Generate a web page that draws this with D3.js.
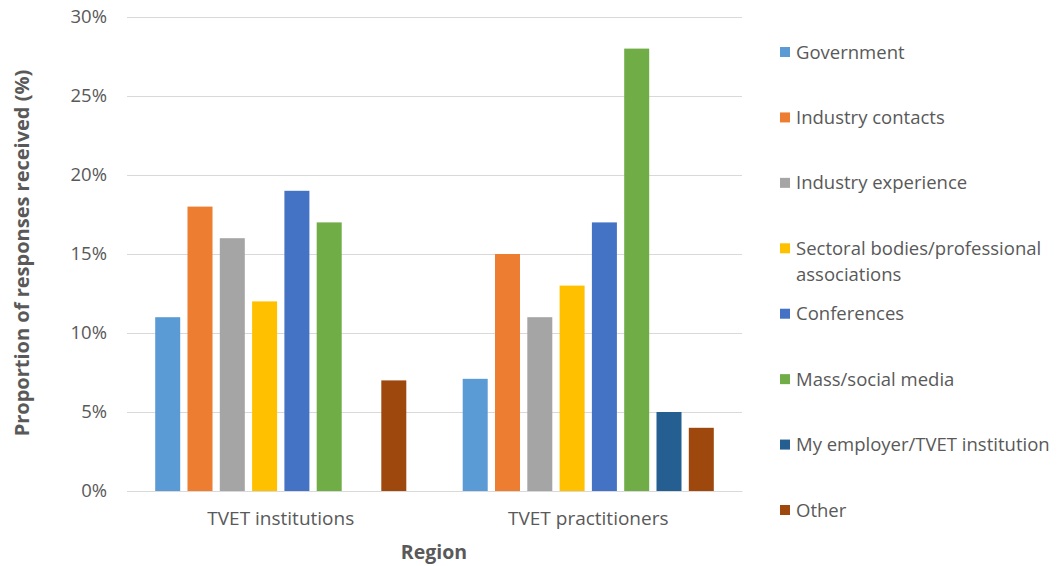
<!DOCTYPE html>
<html>
<head>
<meta charset="utf-8">
<script src="https://cdn.jsdelivr.net/npm/d3@7"></script>
<style>
  body { margin: 0; background: #fff; }
  svg { display: block; font-family: "Open Sans", "Liberation Sans", sans-serif; }
</style>
</head>
<body>
<svg id="chart" width="1057" height="566"></svg>
<script>
const categories = ["TVET institutions", "TVET practitioners"];
const seriesNames = ["Government", "Industry contacts", "Industry experience",
  "Sectoral bodies/professional associations", "Conferences", "Mass/social media",
  "My employer/TVET institution", "Other"];
const legendLines = [["Government"], ["Industry contacts"], ["Industry experience"],
  ["Sectoral bodies/professional", "associations"], ["Conferences"], ["Mass/social media"],
  ["My employer/TVET institution"], ["Other"]];
const institutionsValues = [11, 18, 16, 12, 19, 17, 0, 7];
const practitionersValues = [7.1, 15, 11, 13, 17, 28, 5, 4];
const yTicks = [0, 5, 10, 15, 20, 25, 30];
const colors = ["#5B9BD5", "#ED7D31", "#A5A5A5", "#FFC000", "#4472C4", "#70AD47", "#255E91", "#9E480E"];

const valuesByCategory = [institutionsValues, practitionersValues];

const svg = d3.select("#chart");
const plotLeft = 127, plotRight = 742, plotTop = 17, plotBottom = 491;

const y = d3.scaleLinear().domain([0, 30]).range([plotBottom, plotTop]);
const x0 = d3.scaleBand().domain(categories).range([plotLeft, plotRight]).padding(0);
const x1 = d3.scaleBand().domain(seriesNames).range([0, x0.bandwidth()])
  .paddingInner(0.226).paddingOuter(0.873);
const color = d3.scaleOrdinal().domain(seriesNames).range(colors);

// gridlines
const grid = svg.append("g")
  .attr("transform", `translate(${plotLeft},0)`)
  .call(d3.axisLeft(y).tickValues(yTicks).tickSize(-(plotRight - plotLeft)).tickFormat(""));
grid.select(".domain").remove();
grid.selectAll("line").attr("stroke", "#D9D9D9").attr("stroke-width", 1);

// y tick labels
const yAxis = svg.append("g")
  .attr("transform", `translate(${plotLeft},0)`)
  .call(d3.axisLeft(y).tickValues(yTicks).tickSize(0).tickPadding(20).tickFormat(d => d + "%"));
yAxis.select(".domain").remove();
yAxis.selectAll("text").attr("fill", "#595959").style("font-size", "18.5px")
  .style("font-family", "'Open Sans', sans-serif");

// bars
const groups = svg.append("g").selectAll("g")
  .data(categories)
  .join("g")
  .attr("transform", d => `translate(${x0(d)},0)`);

groups.selectAll("rect")
  .data((c, i) => seriesNames.map((s, j) => ({ s, v: valuesByCategory[i][j] })))
  .join("rect")
  .attr("x", d => x1(d.s))
  .attr("width", x1.bandwidth())
  .attr("y", d => y(d.v))
  .attr("height", d => y(0) - y(d.v))
  .attr("fill", d => color(d.s));

// x axis
const xAxis = svg.append("g")
  .attr("transform", `translate(0,${plotBottom})`)
  .call(d3.axisBottom(x0).tickSize(0).tickPadding(21));
xAxis.select(".domain").attr("stroke", "#D9D9D9");
xAxis.selectAll("text").attr("fill", "#595959").style("font-size", "19px")
  .style("font-family", "'Open Sans', sans-serif");

// axis titles
svg.append("text")
  .attr("x", 434).attr("y", 559)
  .attr("text-anchor", "middle")
  .attr("fill", "#595959")
  .style("font-size", "19.5px").style("font-weight", "bold")
  .text("Region");

svg.append("text")
  .attr("transform", "translate(29,253) rotate(-90)")
  .attr("text-anchor", "middle")
  .attr("fill", "#595959")
  .style("font-size", "20px").style("font-weight", "bold")
  .text("Proportion of responses received (%)");

// legend
const legendY = d3.scalePoint().domain(seriesNames).range([52, 510]);
const legend = svg.append("g").selectAll("g")
  .data(seriesNames)
  .join("g")
  .attr("transform", d => `translate(780,${legendY(d)})`);
legend.append("rect")
  .attr("x", 0).attr("y", -5).attr("width", 10).attr("height", 10)
  .attr("fill", d => color(d));
legend.append("text")
  .attr("fill", "#595959")
  .style("font-size", "18.5px")
  .selectAll("tspan")
  .data((d, i) => legendLines[i].map((t, k) => ({ t, k })))
  .join("tspan")
  .attr("x", 16)
  .attr("y", d => 6.5 + d.k * 26)
  .text(d => d.t);
</script>
</body>
</html>
